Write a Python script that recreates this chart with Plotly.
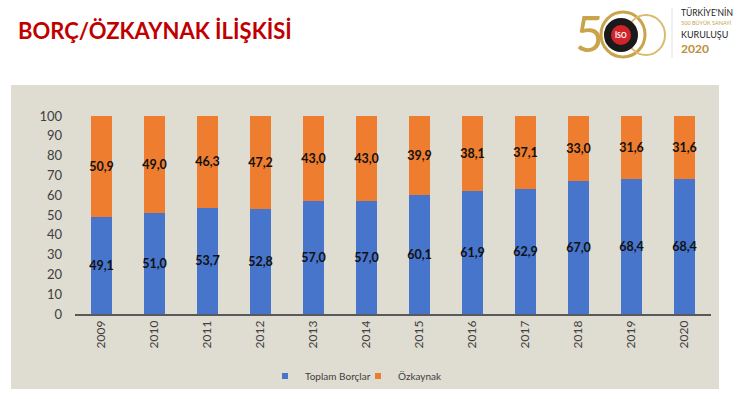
import plotly.graph_objects as go

years = ["2009", "2010", "2011", "2012", "2013", "2014", "2015", "2016", "2017", "2018", "2019", "2020"]
borclar = [49.1, 51.0, 53.7, 52.8, 57.0, 57.0, 60.1, 61.9, 62.9, 67.0, 68.4, 68.4]
ozkaynak = [50.9, 49.0, 46.3, 47.2, 43.0, 43.0, 39.9, 38.1, 37.1, 33.0, 31.6, 31.6]
y_ticks = [0, 10, 20, 30, 40, 50, 60, 70, 80, 90, 100]

BLUE = "#4675CB"
ORANGE = "#EE7D30"

W, H = 740, 399
def px(x):
    return x / W
def py(y):
    return 1 - y / H

FONT = "Lato"

fig = go.Figure()
fig.add_trace(go.Bar(
    x=years, y=borclar, name="Toplam Borçlar", showlegend=False,
    marker=dict(color=BLUE, line=dict(width=0)),
    texttemplate="%{y:.1f}", textposition="inside", insidetextanchor="middle", textangle=0,
    constraintext="none", cliponaxis=False,
    textfont=dict(family=FONT, size=12.5, color="#111111", weight="bold"),
))
fig.add_trace(go.Bar(
    x=years, y=ozkaynak, name="Özkaynak", showlegend=False,
    marker=dict(color=ORANGE, line=dict(width=0)),
    texttemplate="%{y:.1f}", textposition="inside", insidetextanchor="middle", textangle=0,
    constraintext="none", cliponaxis=False,
    textfont=dict(family=FONT, size=12.5, color="#111111", weight="bold"),
))
# legend entries with small square swatches
for nm, col in [("Toplam Borçlar", BLUE), ("Özkaynak", ORANGE)]:
    fig.add_trace(go.Scatter(x=[None], y=[None], mode="markers", name=nm,
                             marker=dict(symbol="square", size=6, color=col)))

shapes = [
    # chart panel
    dict(type="rect", xref="paper", yref="paper", x0=px(11), x1=px(719), y0=py(389), y1=py(85),
         fillcolor="#DFDCD1", line=dict(width=0), layer="below"),
    # logo rings
    dict(type="circle", xref="paper", yref="paper", x0=px(601), x1=px(645), y0=py(57), y1=py(12),
         line=dict(color="#C9A44A", width=3)),
    dict(type="circle", xref="paper", yref="paper", x0=px(627), x1=px(665), y0=py(55), y1=py(15),
         line=dict(color="#D8BC6E", width=2)),
    dict(type="circle", xref="paper", yref="paper", x0=px(605), x1=px(637), y0=py(51), y1=py(19),
         fillcolor="#1a1a1a", line=dict(color="#1a1a1a", width=2)),
    dict(type="circle", xref="paper", yref="paper", x0=px(611), x1=px(631), y0=py(45), y1=py(25),
         fillcolor="#D2232A", line=dict(width=0)),
    dict(type="line", xref="paper", yref="paper", x0=px(672), x1=px(672), y0=py(8), y1=py(58),
         line=dict(color="#E2E2E2", width=1)),
]

annotations = [
    dict(text="<b>BORÇ/ÖZKAYNAK İLİŞKİSİ</b>", x=px(16), y=py(30), xref="paper", yref="paper",
         xanchor="left", yanchor="middle", showarrow=False,
         font=dict(family=FONT, size=22, color="#C00000")),
    dict(text="5", x=px(589), y=py(33), xref="paper", yref="paper", showarrow=False,
         xanchor="center", yanchor="middle", font=dict(family=FONT, size=50, color="#C9A44A")),
    dict(text="<b>İSO</b>", x=px(621), y=py(35), xref="paper", yref="paper", showarrow=False,
         xanchor="center", yanchor="middle", font=dict(family=FONT, size=7, color="white")),
    dict(text="TÜRKİYE'NİN", x=px(679), y=py(13), xref="paper", yref="paper", showarrow=False,
         xanchor="left", yanchor="middle", font=dict(family=FONT, size=8.5, color="#222222")),
    dict(text="500 BÜYÜK SANAYİ", x=px(679), y=py(23), xref="paper", yref="paper", showarrow=False,
         xanchor="left", yanchor="middle", font=dict(family=FONT, size=5.5, color="#C9A44A")),
    dict(text="KURULUŞU", x=px(679), y=py(34), xref="paper", yref="paper", showarrow=False,
         xanchor="left", yanchor="middle", font=dict(family=FONT, size=9, color="#222222")),
    dict(text="<b>2020</b>", x=px(679), y=py(48), xref="paper", yref="paper", showarrow=False,
         xanchor="left", yanchor="middle", font=dict(family=FONT, size=12, color="#B8923A")),
]

fig.update_layout(
    width=W, height=H,
    margin=dict(l=0, r=0, t=0, b=0, autoexpand=False),
    paper_bgcolor="white",
    plot_bgcolor="rgba(0,0,0,0)",
    barmode="stack",
    bargap=0.6,
    separators=",.",
    showlegend=True,
    legend=dict(orientation="h", x=px(265), xanchor="left", y=py(376), yanchor="middle",
                font=dict(family=FONT, size=10, color="#404040"),
                bgcolor="rgba(0,0,0,0)", itemwidth=30, traceorder="normal",
                entrywidth=48, entrywidthmode="pixels"),
    xaxis=dict(domain=[px(75), px(711)], tickangle=-90, showgrid=False, automargin=False,
               showline=True, linecolor="#595959", linewidth=1.5, ticks="",
               tickfont=dict(family=FONT, size=12, color="#404040")),
    yaxis=dict(domain=[py(314), py(116)], range=[0, 100], tickvals=y_ticks, showgrid=False,
               automargin=False,
               showline=False, zeroline=False, ticks="", ticklabelstandoff=12,
               tickfont=dict(family=FONT, size=13, color="#404040")),
    shapes=shapes,
    annotations=annotations,
    font=dict(family=FONT),
)

fig.write_html("out.html", post_script="document.body.style.margin='0';",
               config={"displayModeBar": False})
